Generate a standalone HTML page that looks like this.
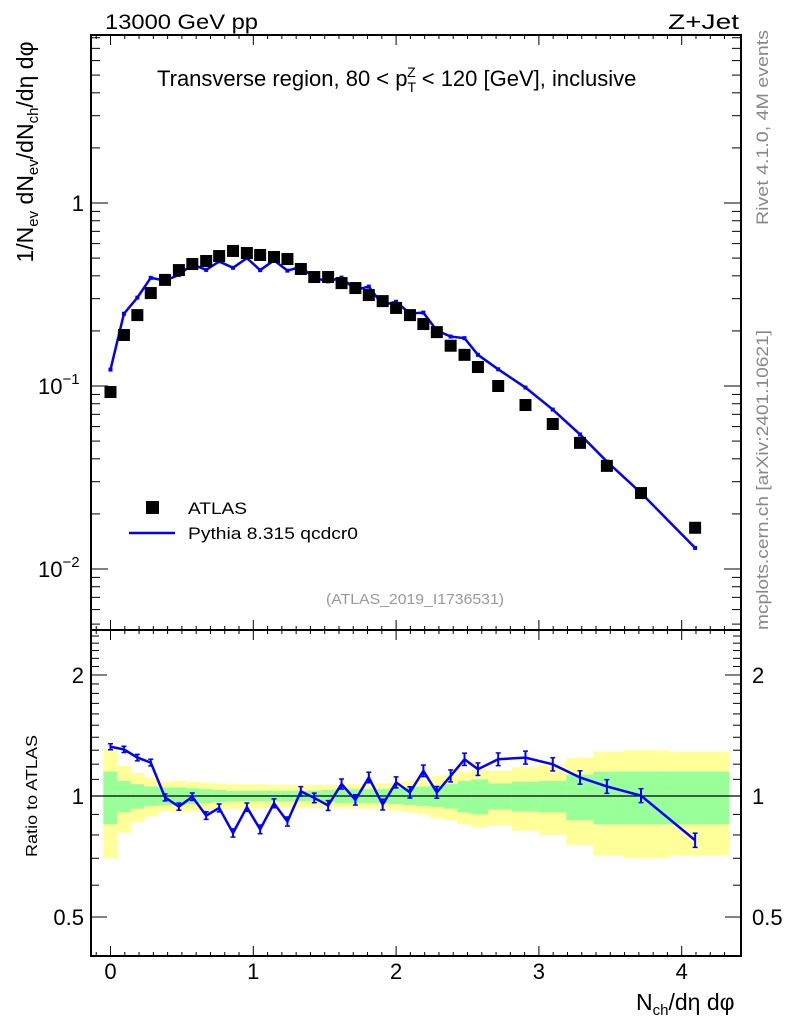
<!DOCTYPE html>
<html><head><meta charset="utf-8">
<style>
body{margin:0;background:#fff;}
svg{font-family:"Liberation Sans",Arial,sans-serif;}
</style></head>
<body>
<svg id="c" width="786" height="1024" viewBox="0 0 786 1024" xmlns="http://www.w3.org/2000/svg">
<text x="105" y="29" font-size="21" textLength="153" lengthAdjust="spacingAndGlyphs">13000 GeV pp</text>
<text x="668" y="29" font-size="21" textLength="71" lengthAdjust="spacingAndGlyphs">Z+Jet</text>
<text x="157" y="86" font-size="22">Transverse region, 80 &lt; p<tspan font-size="14" dy="6">T</tspan><tspan font-size="14" dx="-9" dy="-15">Z</tspan><tspan dy="9"> &lt; 120 [GeV], inclusive</tspan></text>
<text transform="translate(33,152) rotate(-90)" font-size="23" text-anchor="middle">1/N<tspan font-size="15" dy="5">ev</tspan><tspan dy="-5"> dN</tspan><tspan font-size="15" dy="5">ev</tspan><tspan dy="-5">/dN</tspan><tspan font-size="15" dy="5">ch</tspan><tspan dy="-5">/dη dφ</tspan></text>
<text transform="translate(37,796) rotate(-90)" font-size="16" text-anchor="middle" textLength="122" lengthAdjust="spacingAndGlyphs">Ratio to ATLAS</text>
<text x="636" y="1010" font-size="23">N<tspan font-size="15" dy="5">ch</tspan><tspan dy="-5">/dη dφ</tspan></text>
<text transform="translate(768,30) rotate(-90)" font-size="17" fill="#888" text-anchor="end" textLength="195" lengthAdjust="spacingAndGlyphs">Rivet 4.1.0,  4M events</text>
<text transform="translate(768,630) rotate(-90)" font-size="17" fill="#888" textLength="300" lengthAdjust="spacingAndGlyphs">mcplots.cern.ch [arXiv:2401.10621]</text>
<text x="326" y="604" font-size="15" fill="#999" textLength="178" lengthAdjust="spacingAndGlyphs">(ATLAS_2019_I1736531)</text>
<rect x="146" y="501" width="13" height="13" fill="#000"/>
<text x="188" y="514" font-size="17" textLength="59" lengthAdjust="spacingAndGlyphs">ATLAS</text>
<line x1="129" y1="533" x2="175" y2="533" stroke="#00f" stroke-width="2.5"/>
<text x="188" y="539" font-size="17" textLength="170" lengthAdjust="spacingAndGlyphs">Pythia 8.315 qcdcr0</text>
<g id="g"></g>
</svg>
<script>
const xs=[0,0.094,0.188,0.282,0.382,0.479,0.573,0.670,0.761,0.858,0.955,1.048,1.145,1.239,1.333,1.427,1.524,1.618,1.715,1.809,1.906,2.0,2.097,2.191,2.285,2.382,2.479,2.573,2.715,2.906,3.097,3.288,3.476,3.715,4.094];
const atlas=[0.0927,0.190,0.244,0.322,0.380,0.430,0.464,0.482,0.513,0.547,0.533,0.520,0.507,0.494,0.436,0.394,0.394,0.365,0.343,0.314,0.291,0.267,0.244,0.218,0.197,0.166,0.148,0.127,0.100,0.0787,0.062,0.0489,0.0366,0.026,0.0168];
const ratio=[1.326,1.306,1.246,1.211,0.992,0.941,0.996,0.894,0.934,0.809,0.938,0.826,0.959,0.864,1.027,0.989,0.947,1.071,0.978,1.112,0.952,1.081,1.021,1.155,1.021,1.122,1.234,1.166,1.234,1.246,1.199,1.112,1.056,1.002,0.776];
const statErr=[0.15,0.09,0.07,0.055,0.05,0.05,0.045,0.04,0.035,0.03,0.03,0.03,0.03,0.03,0.03,0.03,0.035,0.04,0.04,0.04,0.04,0.045,0.05,0.055,0.06,0.07,0.09,0.10,0.075,0.085,0.09,0.13,0.15,0.15,0.15];
const totErr=[0.30,0.19,0.14,0.11,0.085,0.09,0.085,0.08,0.075,0.07,0.07,0.07,0.065,0.065,0.065,0.065,0.065,0.065,0.07,0.07,0.075,0.08,0.09,0.10,0.12,0.13,0.15,0.165,0.155,0.18,0.20,0.245,0.29,0.30,0.29];
const mainTicks=[{v:1,t:"1"},{v:0.1,t:"10",e:"−1"},{v:0.01,t:"10",e:"−2"}];
const ratioTicks=[2,1,0.5];
const xTicks=[0,1,2,3,4];

const NS="http://www.w3.org/2000/svg";
const g=document.getElementById('g');
const L=91,R=741,MT=35,MB=630,RT=630,RB=956;
const X=v=>110.5+v*142.8;
const Ym=v=>203-183*Math.log10(v);
const Yr=v=>796-402*Math.log10(v);
function el(t,a,p){const e=document.createElementNS(NS,t);for(const k in a)e.setAttribute(k,a[k]);(p||g).appendChild(e);return e;}

const edges=[-0.05];
for(let i=0;i<xs.length-1;i++)edges.push((xs[i]+xs[i+1])/2);
edges.push(4.33);
for(let i=0;i<xs.length;i++){
  const x0=X(edges[i]),x1=X(edges[i+1]);
  const y=el('rect',{x:x0,y:Yr(1+totErr[i]),width:x1-x0+0.5,height:Yr(1-totErr[i])-Yr(1+totErr[i]),fill:'#ffff99'});
  
  
  const s=el('rect',{x:x0,y:Yr(1+statErr[i]),width:x1-x0+0.5,height:Yr(1-statErr[i])-Yr(1+statErr[i]),fill:'#99ff99'});
  
  
}
el('line',{x1:L,x2:R,y1:Yr(1),y2:Yr(1),stroke:'#000','stroke-width':1.2});

for(const [t,b] of [[MT,MB],[RT,RB]]){
  const f=el('rect',{x:L,y:t,width:R-L,height:b-t,fill:'none',stroke:'#000','stroke-width':2});
  
  
  for(let k=-1;k<=43;k++){
    const v=k/10,px=X(v);if(px<L||px>R)continue;
    const len=(k%10===0)?10:4;
    el('line',{x1:px,x2:px,y1:b,y2:b-len,stroke:'#000','stroke-width':1});
    el('line',{x1:px,x2:px,y1:t,y2:t+len,stroke:'#000','stroke-width':1});
  }
}
for(let d=-3;d<=1;d++)for(let m=1;m<=9;m++){
  const v=m*Math.pow(10,d),py=Ym(v);if(py<MT||py>MB)continue;
  const len=m===1?17:9;
  el('line',{x1:L,x2:L+len,y1:py,y2:py,stroke:'#000'});
  el('line',{x1:R,x2:R-len,y1:py,y2:py,stroke:'#000'});
}
mainTicks.forEach(t=>{
  const tx=el('text',{x:84,y:Ym(t.v)+8,'font-size':22,'text-anchor':'end'});
  tx.textContent=t.t;
  
  
  if(t.e){const s=el('tspan',{'font-size':15,dy:-10},tx);s.textContent=t.e;tx.setAttribute('text-anchor','start');tx.setAttribute('x',38);}
});
const rt=[];for(let v=0.3;v<=2.61;v+=0.1)rt.push(v);
rt.forEach(v=>{const py=Yr(v);if(py<RT||py>RB)return;
  const major=[0.5,1,2].some(m=>Math.abs(m-v)<1e-6);const len=major?16:8;
  el('line',{x1:L,x2:L+len,y1:py,y2:py,stroke:'#000'});
  el('line',{x1:R,x2:R-len,y1:py,y2:py,stroke:'#000'});});
ratioTicks.forEach(v=>{
  for(const [x,a] of [[84,'end'],[752,'start']]){
    const tx=el('text',{x:x,y:Yr(v)+8,'font-size':22,'text-anchor':a});
    tx.textContent=String(v);
    
    
  }
});
xTicks.forEach(v=>{
  const tx=el('text',{x:X(v),y:979,'font-size':22,'text-anchor':'middle'});
  tx.textContent=String(v);
  
  
});

const mc=xs.map((x,i)=>atlas[i]*ratio[i]);
const pm=el('polyline',{points:xs.map((x,i)=>X(x)+','+Ym(mc[i])).join(' '),fill:'none',stroke:'#00f','stroke-width':2.5});


const pr=el('polyline',{points:xs.map((x,i)=>X(x)+','+Yr(ratio[i])).join(' '),fill:'none',stroke:'#00f','stroke-width':2.5});


xs.forEach((x,i)=>{
  const px=X(x),py=Yr(ratio[i]);const e=3+i*0.12;
  el('line',{x1:px,x2:px,y1:py-e,y2:py+e,stroke:'#00f','stroke-width':2});
  el('line',{x1:px-2.5,x2:px+2.5,y1:py-e,y2:py-e,stroke:'#00f','stroke-width':1.5});
  el('line',{x1:px-2.5,x2:px+2.5,y1:py+e,y2:py+e,stroke:'#00f','stroke-width':1.5});
  el('rect',{x:px-2,y:Ym(mc[i])-2,width:4,height:4,fill:'#00f'});
});
xs.forEach((x,i)=>{
  const r=el('rect',{x:X(x)-6,y:Ym(atlas[i])-6,width:12,height:12,fill:'#000'});
  
  
});
</script>
</body></html>
